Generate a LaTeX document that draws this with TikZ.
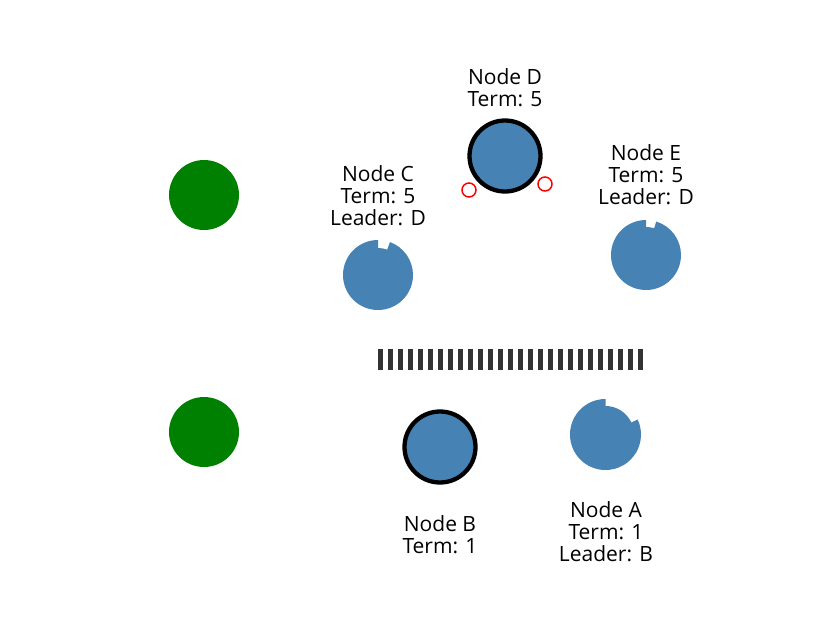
\documentclass[tikz,border=0pt]{standalone}
\usepackage{fontspec}
\usetikzlibrary{calc}
\setmainfont{Open Sans}
\definecolor{steel}{HTML}{4682B4}
\definecolor{grn}{HTML}{008000}
\definecolor{barc}{HTML}{333333}
\begin{document}
\begin{tikzpicture}[x=1pt,y=1pt,
  lbl/.style={align=center,inner sep=0pt,font=\fontsize{21}{22}\selectfont},
  gdot/.style={circle,fill=grn,minimum size=70pt,inner sep=0pt},
  bdot/.style={circle,fill=steel,draw=black,line width=4.3pt,minimum size=71pt,inner sep=0pt},
  ring/.style={circle,draw=red,line width=1.5pt,minimum size=14pt,inner sep=0pt}]
\useasboundingbox (0,0) rectangle (820,-622);
\fill[white] (0,0) rectangle (820,-622);
% green nodes
\node[gdot] (g1) at (204,-195) {};
\node[gdot] (g2) at (204,-432) {};
% leader nodes
\node[bdot] (nD) at (505,-156) {};
\node[bdot] (nB) at (440,-447) {};
\node[ring] (r1) at (469,-190) {};
\node[ring] (r2) at (545,-184) {};
% notched nodes
\coordinate (cC) at (378,-275);
\coordinate (cE) at (646,-255);
\coordinate (cA) at (605.5,-434.5);
\fill[steel] (cC) ++(90:35) arc[start angle=90,end angle=430,radius=35]
  -- ($(cC)+(70:27)$) arc[start angle=70,end angle=90,radius=27] -- cycle;
\fill[steel] (cE) ++(90:35) arc[start angle=90,end angle=433,radius=35]
  -- ($(cE)+(73:28)$) arc[start angle=73,end angle=90,radius=28] -- cycle;
\fill[steel] (cA) ++(90:35.5) arc[start angle=90,end angle=385,radius=35.5]
  -- ($(cA)+(25:28.5)$) arc[start angle=25,end angle=90,radius=28.5] -- cycle;
% partition bar
\coordinate (p1) at (378,-359.5);
\coordinate (p2) at (643,-359.5);
\draw[barc,line width=21pt,dash pattern=on 5pt off 5pt] (p1) -- (p2);
% labels
\node[lbl] (tD) at (505,-88) {Node D\\Term: 5};
\node[lbl] (tC) at (378,-196) {Node C\\Term: 5\\Leader: D};
\node[lbl] (tE) at (646,-175) {Node E\\Term: 5\\Leader: D};
\node[lbl] (tB) at (440,-535) {Node B\\Term: 1};
\node[lbl] (tA) at (606,-532) {Node A\\Term: 1\\Leader: B};
\end{tikzpicture}
\end{document}
